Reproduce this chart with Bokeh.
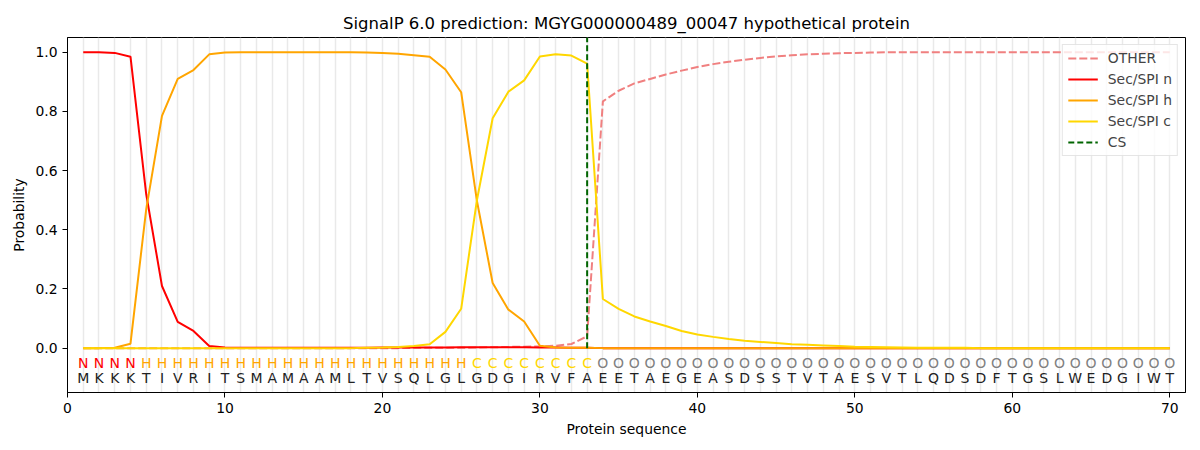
from bokeh.plotting import figure
from bokeh.models import FixedTicker, PrintfTickFormatter, Range1d, Legend, LegendItem, ColumnDataSource
from bokeh.embed import file_html
from bokeh.resources import INLINE
from bokeh.core.properties import value

title = "SignalP 6.0 prediction: MGYG000000489_00047 hypothetical protein"

positions = list(range(1, 71))
sequence = list("MKKKTIVRITSMAMAAMLTVSQLGLGDGIRVFAEETAEGEASDSSTVTAESVTLQDSDFTGSLWEDGIWT")
region_labels = list("NNNNHHHHHHHHHHHHHHHHHHHHHCCCCCCCCOOOOOOOOOOOOOOOOOOOOOOOOOOOOOOOOOOOOO")
label_colors = {"N": "red", "H": "orange", "C": "gold", "O": "gray"}

other = [0.000, 0.000, 0.000, 0.000, 0.000, 0.000, 0.000, 0.000, 0.000, 0.000,
         0.000, 0.000, 0.000, 0.000, 0.000, 0.000, 0.000, 0.000, 0.000, 0.000,
         0.000, 0.001, 0.001, 0.001, 0.001, 0.002, 0.003, 0.004, 0.005, 0.006,
         0.008, 0.014, 0.040, 0.834, 0.870, 0.895, 0.910, 0.925, 0.938, 0.950,
         0.960, 0.968, 0.975, 0.981, 0.986, 0.990, 0.993, 0.995, 0.997, 0.998,
         0.999, 1.000, 1.000, 1.000, 1.000, 1.000, 1.000, 1.000, 1.000, 1.000,
         1.000, 1.000, 1.000, 1.000, 1.000, 1.000, 1.000, 1.000, 1.000, 1.000]

sec_n = [1.000, 1.000, 0.998, 0.985, 0.520, 0.210, 0.089, 0.058, 0.007, 0.002,
         0.001, 0.001, 0.001, 0.001, 0.001, 0.001, 0.001, 0.001, 0.001, 0.002,
         0.002, 0.002, 0.002, 0.002, 0.003, 0.003, 0.003, 0.003, 0.003, 0.002,
         0.002, 0.001, 0.001, 0.000, 0.000, 0.000, 0.000, 0.000, 0.000, 0.000,
         0.000, 0.000, 0.000, 0.000, 0.000, 0.000, 0.000, 0.000, 0.000, 0.000,
         0.000, 0.000, 0.000, 0.000, 0.000, 0.000, 0.000, 0.000, 0.000, 0.000,
         0.000, 0.000, 0.000, 0.000, 0.000, 0.000, 0.000, 0.000, 0.000, 0.000]

sec_h = [0.000, 0.000, 0.001, 0.015, 0.470, 0.785, 0.910, 0.940, 0.993, 0.999,
         1.000, 1.000, 1.000, 1.000, 1.000, 1.000, 1.000, 1.000, 0.999, 0.998,
         0.995, 0.990, 0.985, 0.942, 0.865, 0.498, 0.220, 0.130, 0.090, 0.008,
         0.002, 0.001, 0.001, 0.000, 0.000, 0.000, 0.000, 0.000, 0.000, 0.000,
         0.000, 0.000, 0.000, 0.000, 0.000, 0.000, 0.000, 0.000, 0.000, 0.000,
         0.000, 0.000, 0.000, 0.000, 0.000, 0.000, 0.000, 0.000, 0.000, 0.000,
         0.000, 0.000, 0.000, 0.000, 0.000, 0.000, 0.000, 0.000, 0.000, 0.000]

sec_c = [0.000, 0.000, 0.000, 0.000, 0.000, 0.000, 0.000, 0.000, 0.000, 0.000,
         0.000, 0.000, 0.000, 0.000, 0.000, 0.000, 0.000, 0.000, 0.001, 0.002,
         0.004, 0.007, 0.013, 0.055, 0.133, 0.500, 0.777, 0.867, 0.905, 0.986,
         0.993, 0.989, 0.962, 0.166, 0.133, 0.107, 0.090, 0.075, 0.058, 0.046,
         0.038, 0.031, 0.025, 0.021, 0.017, 0.013, 0.011, 0.009, 0.007, 0.005,
         0.004, 0.003, 0.002, 0.001, 0.001, 0.001, 0.001, 0.000, 0.000, 0.000,
         0.000, 0.000, 0.000, 0.000, 0.000, 0.000, 0.000, 0.000, 0.000, 0.000]

cs_pos = 33
cs_span = [0.0, 1.05]

x_ticks = [0, 10, 20, 30, 40, 50, 60, 70]
y_ticks = [0.0, 0.2, 0.4, 0.6, 0.8, 1.0]
label_row_y = -0.05
seq_row_y = -0.10

FONT = "DejaVu Sans"

p = figure(width=1200, height=450, output_backend="svg", toolbar_location=None,
           x_range=Range1d(0, 71), y_range=Range1d(-0.15, 1.05),
           min_border_left=67, min_border_right=15, min_border_top=37, min_border_bottom=58)

p.title.text = title
p.title.align = "center"
p.title.text_font = FONT
p.title.text_font_style = "normal"
p.title.text_font_size = "16.5px"
p.title.text_color = "black"

p.outline_line_color = "black"
p.outline_line_width = 1
p.outline_line_alpha = 1.0

p.xgrid.ticker = FixedTicker(ticks=positions)
p.xgrid.grid_line_color = "#e9e9e9"
p.xgrid.grid_line_width = 1.5
p.ygrid.grid_line_color = None

for ax in (p.xaxis[0], p.yaxis[0]):
    ax.major_label_text_font = FONT
    ax.major_label_text_font_size = "13.9px"
    ax.major_label_text_color = "black"
    ax.axis_label_text_font = FONT
    ax.axis_label_text_font_size = "13.9px"
    ax.axis_label_text_font_style = "normal"
    ax.axis_label_text_color = "black"
    ax.axis_line_color = "black"
    ax.major_tick_line_color = "black"
    ax.major_tick_out = 5
    ax.major_tick_in = 0
    ax.minor_tick_line_color = None

p.xaxis.ticker = FixedTicker(ticks=x_ticks)
p.yaxis.ticker = FixedTicker(ticks=y_ticks)
p.yaxis.formatter = PrintfTickFormatter(format="%.1f")
p.xaxis.axis_label = "Protein sequence"
p.yaxis.axis_label = "Probability"

lw = 2
r_other = p.line(positions, other, line_color="#F08080", line_width=lw, line_dash="8 3")
r_n = p.line(positions, sec_n, line_color="red", line_width=lw)
r_h = p.line(positions, sec_h, line_color="orange", line_width=lw)
r_c = p.line(positions, sec_c, line_color="gold", line_width=lw)
r_cs = p.line([cs_pos, cs_pos], cs_span, line_color="#006400", line_width=lw, line_dash="6 3")

lab_src = ColumnDataSource(dict(x=positions, y=[label_row_y] * len(positions), t=region_labels,
                                c=[label_colors[l] for l in region_labels]))
p.text(x="x", y="y", text="t", text_color="c", source=lab_src, text_align="center",
       text_baseline="middle", text_font=value(FONT), text_font_size="14px")
seq_src = ColumnDataSource(dict(x=positions, y=[seq_row_y] * len(positions), t=sequence))
p.text(x="x", y="y", text="t", text_color="#222222", source=seq_src, text_align="center",
       text_baseline="middle", text_font=value(FONT), text_font_size="14px")

legend = Legend(items=[
    LegendItem(label="OTHER", renderers=[r_other]),
    LegendItem(label="Sec/SPI n", renderers=[r_n]),
    LegendItem(label="Sec/SPI h", renderers=[r_h]),
    LegendItem(label="Sec/SPI c", renderers=[r_c]),
    LegendItem(label="CS", renderers=[r_cs]),
], location="top_right")
legend.label_text_font = FONT
legend.label_text_font_size = "13.9px"
legend.border_line_color = "#cccccc"
legend.background_fill_alpha = 0.8
legend.glyph_width = 30
legend.glyph_height = 14
legend.label_height = 14
legend.spacing = 5
legend.padding = 5
legend.margin = 7
legend.label_standoff = 10
p.add_layout(legend)

open("out.html", "w").write(file_html(p, INLINE))
